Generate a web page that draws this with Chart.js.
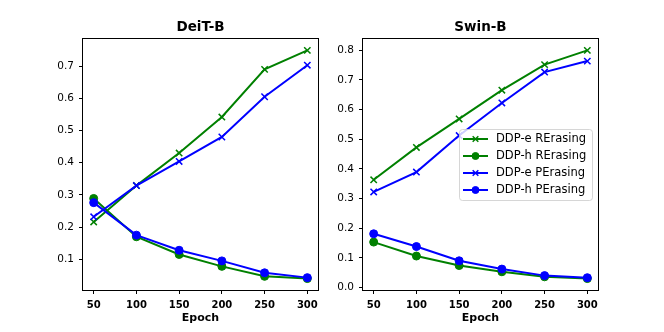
<!DOCTYPE html>
<html>
<head>
<meta charset="utf-8">
<script src="https://cdn.jsdelivr.net/npm/chart.js@4/dist/chart.umd.min.js"></script>
<style>
  html, body { margin: 0; padding: 0; background: #fff; }
  #wrap { position: relative; width: 664px; height: 332px; }
  .box { position: absolute; top: 0; width: 332px; height: 332px; }
</style>
</head>
<body>
<div id="wrap">
  <div class="box" style="left:0"><canvas id="deit"></canvas></div>
  <div class="box" style="left:332px"><canvas id="swin"></canvas></div>
</div>
<script>
// epochs on the x axis
const epochs = [50, 100, 150, 200, 250, 300];
const seriesNames = ['DDP-e RErasing', 'DDP-h RErasing', 'DDP-e PErasing', 'DDP-h PErasing'];

// DeiT-B
const deitERe = [0.216, 0.329, 0.430, 0.542, 0.690, 0.749];
const deitHRe = [0.289, 0.170, 0.115, 0.078, 0.047, 0.040];
const deitEPe = [0.232, 0.329, 0.404, 0.480, 0.605, 0.703];
const deitHPe = [0.276, 0.175, 0.128, 0.095, 0.058, 0.043];

// Swin-B
const swinERe = [0.363, 0.472, 0.568, 0.665, 0.751, 0.799];
const swinHRe = [0.153, 0.106, 0.074, 0.053, 0.036, 0.030];
const swinEPe = [0.322, 0.389, 0.512, 0.622, 0.726, 0.763];
const swinHPe = [0.181, 0.138, 0.090, 0.062, 0.040, 0.033];

const xTicks = [50, 100, 150, 200, 250, 300];
const deitYTicks = [0.1, 0.2, 0.3, 0.4, 0.5, 0.6, 0.7];
const swinYTicks = [0.0, 0.1, 0.2, 0.3, 0.4, 0.5, 0.6, 0.7, 0.8];

const GREEN = '#008000';
const BLUE = '#0000ff';
const FONT = "'DejaVu Sans', sans-serif";

function makeSets(a, b, c, d) {
    let styles = [
        [GREEN, 'crossRot'], [GREEN, 'circle'], [BLUE, 'crossRot'], [BLUE, 'circle']
    ];
    return [a, b, c, d].map(function (vals, i) {
        return {
            label: seriesNames[i],
            data: epochs.map((e, k) => ({x: e, y: vals[k]})),
            borderColor: styles[i][0],
            backgroundColor: styles[i][0],
            borderWidth: 2,
            pointStyle: styles[i][1],
            pointRadius: styles[i][1] == 'circle' ? 4 : 4.5,
            pointBorderWidth: styles[i][1] == 'circle' ? 1 : 1.5,
            pointBorderColor: styles[i][0],
            pointBackgroundColor: styles[i][0],
            tension: 0,
            order: 4 - i
        };
    });
}

// matplotlib-ish autoscale with 5% margins
function range(arrs) {
    let all = [].concat(...arrs);
    let lo = Math.min(...all), hi = Math.max(...all);
    let m = (hi - lo) * 0.05;
    return [lo - m, hi + m];
}

const framePlugin = {
    id: 'frame',
    afterDatasetsDraw(chart) {
        let a = chart.chartArea, ctx = chart.ctx;
        ctx.save();
        ctx.strokeStyle = '#000';
        ctx.lineWidth = 1;
        ctx.strokeRect(Math.round(a.left) - 0.5, Math.round(a.top) - 0.5,
            Math.round(a.right - a.left) + 1, Math.round(a.bottom - a.top) + 1);
        ctx.restore();
    }
};

const legendPlugin = {
    id: 'boxLegend',
    afterDraw(chart, args, opts) {
        if (!opts.show) return;
        let ctx = chart.ctx, a = chart.chartArea;
        let w = 133, h = 71, rowH = 17;
        let left = a.right - 6 - w;
        let cy = (a.top + a.bottom) / 2;
        let top = cy - h / 2;
        ctx.save();
        ctx.globalAlpha = 0.8;
        ctx.fillStyle = '#fff';
        ctx.strokeStyle = '#cccccc';
        ctx.lineWidth = 1;
        ctx.beginPath();
        ctx.roundRect(left + 0.5, top + 0.5, w, h, 3);
        ctx.fill();
        ctx.stroke();
        ctx.globalAlpha = 1;
        chart.data.datasets.forEach(function (ds, i) {
            let y = cy + (i - 1.5) * rowH;
            ctx.strokeStyle = ds.borderColor;
            ctx.fillStyle = ds.borderColor;
            ctx.lineWidth = 2;
            ctx.beginPath();
            ctx.moveTo(left + 4, y);
            ctx.lineTo(left + 29, y);
            ctx.stroke();
            ctx.lineWidth = ds.pointBorderWidth;
            Chart.helpers.drawPoint(ctx, {
                pointStyle: ds.pointStyle, radius: ds.pointRadius - 0.5,
                borderWidth: ds.pointBorderWidth, rotation: 0
            }, left + 16.5, y);
            ctx.fillStyle = '#000';
            ctx.font = '11.5px ' + FONT;
            ctx.textBaseline = 'middle';
            ctx.fillText(ds.label, left + 37, y + 0.5);
        });
        ctx.restore();
    }
};

function drawChart(id, title, sets, yTicks, axisLeft, padRight, legend) {
    let vals = sets.map(s => s.data.map(p => p.y));
    let yr = range(vals);
    let ctx = document.getElementById(id).getContext('2d');
    return new Chart(ctx, {
        type: 'line',
        data: { datasets: sets },
        plugins: [framePlugin, legendPlugin],
        options: {
            responsive: true,
            maintainAspectRatio: false,
            animation: false,
            layout: { padding: { left: 0, right: padRight, top: 0, bottom: 0 } },
            plugins: {
                legend: { display: false },
                tooltip: { enabled: false },
                title: {
                    display: true, text: title, fullSize: false,
                    color: '#000',
                    font: { family: FONT, size: 13.5, weight: 'bold', lineHeight: 1.2 },
                    padding: { top: 19.6, bottom: 3.2 }
                },
                boxLegend: { show: legend }
            },
            scales: {
                x: {
                    type: 'linear',
                    min: 37.5, max: 312.5,
                    afterBuildTicks: s => { s.ticks = xTicks.map(v => ({value: v})); },
                    afterFit: s => { s.height = 42; },
                    border: { display: false },
                    grid: { drawOnChartArea: false, drawTicks: true, tickLength: 4, color: '#000' },
                    ticks: {
                        color: '#000', padding: 5, maxRotation: 0,
                        font: { family: FONT, size: 10, weight: 'bold' }
                    },
                    title: {
                        display: true, text: 'Epoch', color: '#000',
                        font: { family: FONT, size: 11, weight: 'bold' },
                        padding: { top: 0, bottom: 7.5 }
                    }
                },
                y: {
                    type: 'linear',
                    min: yr[0], max: yr[1],
                    afterBuildTicks: s => { s.ticks = yTicks.map(v => ({value: v})); },
                    afterFit: s => { s.width = axisLeft; },
                    border: { display: false },
                    grid: { drawOnChartArea: false, drawTicks: true, tickLength: 4, color: '#000' },
                    ticks: {
                        color: '#000', padding: 5,
                        font: { family: FONT, size: 10.5 },
                        callback: v => Number(v).toFixed(1)
                    }
                }
            }
        }
    });
}

drawChart('deit', 'DeiT-B', makeSets(deitERe, deitHRe, deitEPe, deitHPe), deitYTicks, 83, 14, false);
drawChart('swin', 'Swin-B', makeSets(swinERe, swinHRe, swinEPe, swinHPe), swinYTicks, 31, 66, true);
</script>
</body>
</html>
